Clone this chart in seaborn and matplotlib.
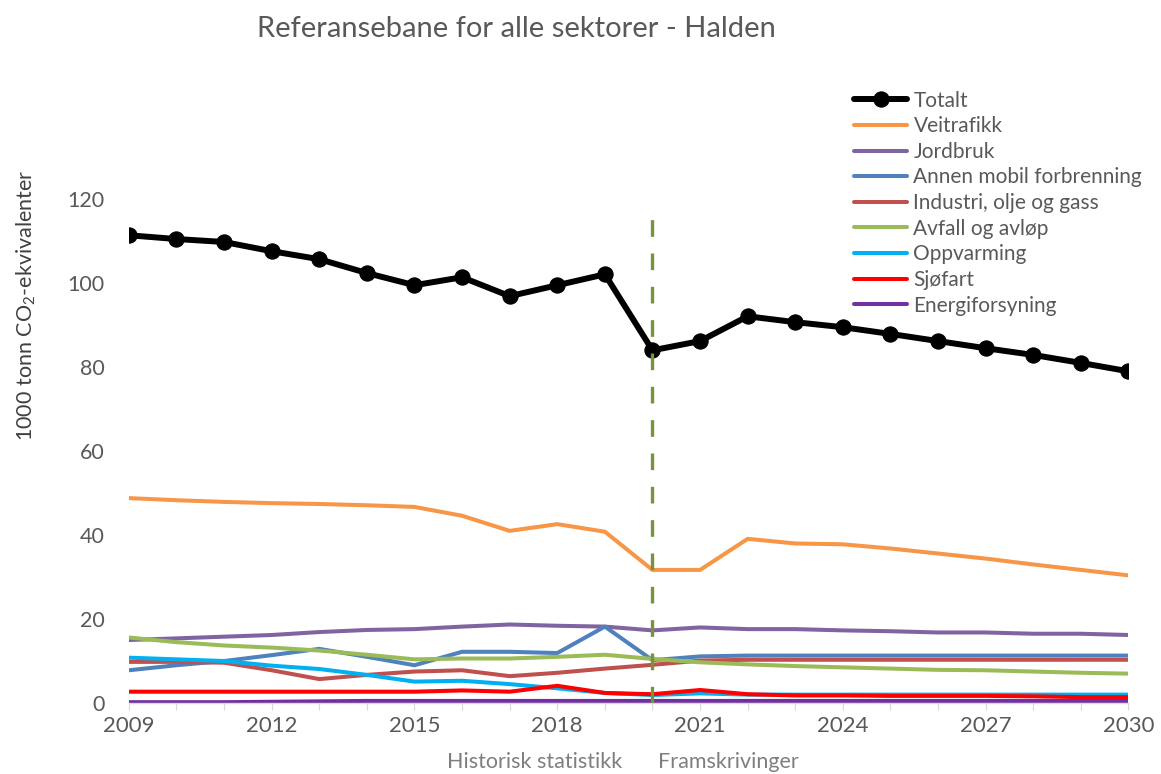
import matplotlib
matplotlib.use("Agg")
import matplotlib.pyplot as plt
import seaborn as sns
import numpy as np

# --- DATA ---
years = list(range(2009, 2031))

totalt = [111.4, 110.5, 109.8, 107.6, 105.7, 102.4, 99.5, 101.4, 96.9, 99.5, 102.1,
          84.0, 86.2, 92.1, 90.7, 89.5, 87.9, 86.2, 84.5, 82.9, 81.0, 79.0]
veitrafikk = [48.8, 48.3, 47.9, 47.6, 47.4, 47.1, 46.7, 44.6, 41.0, 42.6, 40.8,
              31.7, 31.7, 39.1, 38.0, 37.8, 36.8, 35.6, 34.4, 33.0, 31.7, 30.4]
jordbruk = [15.0, 15.4, 15.8, 16.2, 16.9, 17.4, 17.6, 18.2, 18.7, 18.4, 18.2,
            17.3, 18.0, 17.6, 17.6, 17.3, 17.1, 16.8, 16.8, 16.5, 16.5, 16.2]
annen_mobil = [7.8, 9.0, 10.0, 11.4, 12.9, 11.0, 9.0, 12.2, 12.2, 11.9, 18.2,
               10.2, 11.1, 11.3, 11.3, 11.3, 11.3, 11.3, 11.3, 11.3, 11.3, 11.3]
industri = [9.8, 9.8, 9.6, 7.8, 5.7, 6.7, 7.5, 7.8, 6.4, 7.2, 8.2,
            9.1, 10.1, 10.3, 10.3, 10.3, 10.3, 10.3, 10.3, 10.3, 10.3, 10.3]
avfall = [15.6, 14.5, 13.7, 13.2, 12.5, 11.5, 10.4, 10.6, 10.6, 11.0, 11.5,
          10.5, 9.7, 9.2, 8.8, 8.5, 8.2, 7.9, 7.8, 7.5, 7.2, 7.0]
oppvarming = [10.8, 10.4, 10.0, 8.9, 8.1, 6.7, 5.1, 5.3, 4.5, 3.5, 2.4,
              1.9, 2.3, 2.0, 2.0, 2.0, 2.0, 2.0, 2.0, 2.0, 2.0, 2.0]
sjofart = [2.7, 2.7, 2.7, 2.7, 2.7, 2.7, 2.7, 3.0, 2.7, 4.1, 2.4,
           2.1, 3.1, 2.1, 1.8, 1.8, 1.7, 1.7, 1.7, 1.6, 1.4, 1.4]
energi = [0.2, 0.2, 0.2, 0.3, 0.4, 0.5, 0.5, 0.5, 0.5, 0.5, 0.5,
          0.5, 0.5, 0.5, 0.5, 0.5, 0.5, 0.5, 0.5, 0.5, 0.5, 0.5]

sectors = [
    ("Veitrafikk", veitrafikk, "#F79646"),
    ("Jordbruk", jordbruk, "#8064A2"),
    ("Annen mobil forbrenning", annen_mobil, "#4F81BD"),
    ("Industri, olje og gass", industri, "#C0504D"),
    ("Avfall og avløp", avfall, "#9BBB59"),
    ("Oppvarming", oppvarming, "#00B0F0"),
    ("Sjøfart", sjofart, "#FF0000"),
    ("Energiforsyning", energi, "#7030A0"),
]

# --- STYLE ---
sns.set_style("white")
plt.rcParams["font.family"] = ["Lato", "DejaVu Sans"]
plt.rcParams["mathtext.fontset"] = "custom"
plt.rcParams["mathtext.rm"] = "Lato"
plt.rcParams["mathtext.default"] = "regular"

fig = plt.figure(figsize=(11.61, 7.74), dpi=100)
ax = fig.add_axes([0.111, 0.0917, 0.861, 0.651])

sns.lineplot(x=years, y=totalt, ax=ax, color="black", lw=4.3, marker="o",
             markersize=11, markeredgecolor="black", label="Totalt", zorder=3)
for name, vals, col in sectors:
    sns.lineplot(x=years, y=vals, ax=ax, color=col, lw=2.9, label=name)

ax.axvline(2020, ymin=0, ymax=0.98, color="#77933C", lw=2.4,
           dashes=(5, 5), zorder=10)

ax.set_xlim(2009, 2030)
ax.set_ylim(0, 120)
ax.set_xticks(years)
ax.set_xticklabels([str(y) if (y - 2009) % 3 == 0 else "" for y in years])
ax.set_yticks(range(0, 121, 20))

for s in ["top", "right", "left"]:
    ax.spines[s].set_visible(False)
ax.spines["bottom"].set_color("#D9D9D9")
ax.spines["bottom"].set_linewidth(1)
ax.tick_params(axis="x", bottom=True, length=5, color="#D9D9D9",
               labelsize=16, labelcolor="#595959", pad=4)
ax.tick_params(axis="y", left=False, labelsize=15.5, labelcolor="#595959", pad=14)

ax.set_ylabel("1000 tonn CO$_2$-ekvivalenter", fontsize=15.5, color="#404040")
ax.yaxis.set_label_coords(-0.091, 0.79)

fig.text(0.445, 0.963, "Referansebane for alle sektorer - Halden",
         ha="center", va="center", fontsize=21, color="#595959")
fig.text(0.536, 0.003, "Historisk statistikk", ha="right", va="bottom",
         fontsize=15.5, color="#7F7F7F")
fig.text(0.567, 0.003, "Framskrivinger", ha="left", va="bottom",
         fontsize=15.5, color="#7F7F7F")

leg = ax.legend(loc="upper left", bbox_to_anchor=(0.736, 0.883),
                bbox_transform=fig.transFigure, frameon=False, fontsize=15,
                handlelength=2.5, handletextpad=0.33, labelspacing=0.27,
                borderaxespad=0, borderpad=0)
for t in leg.get_texts():
    t.set_color("#595959")

fig.savefig("out.png", dpi=100)
